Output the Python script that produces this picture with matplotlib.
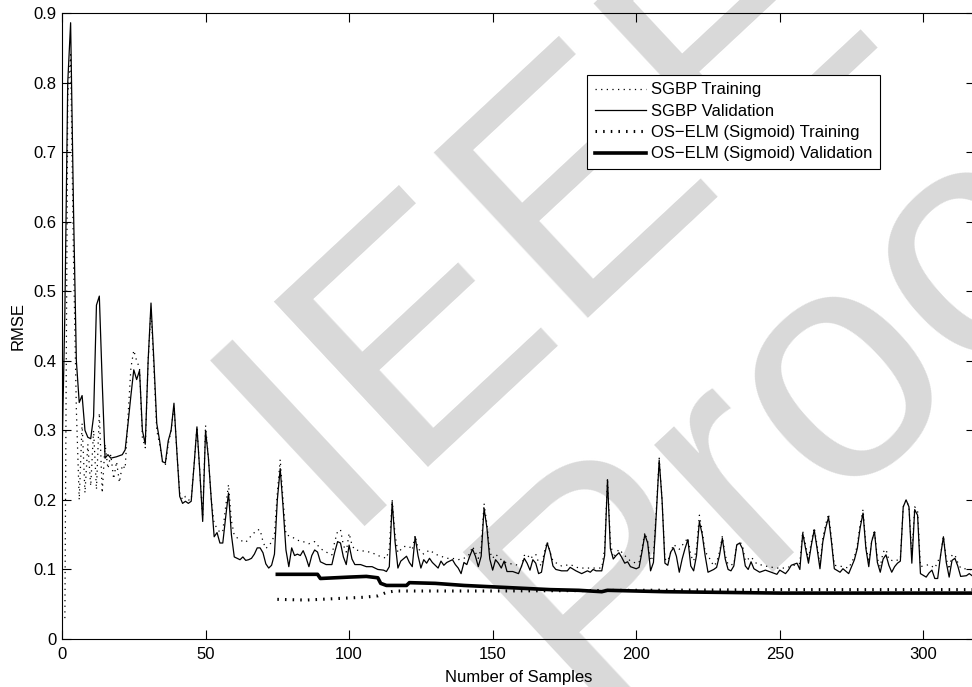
import matplotlib
matplotlib.use('Agg')
import matplotlib.pyplot as plt

plt.rcParams['font.family'] = ['Liberation Sans', 'DejaVu Sans']

# SGBP validation (thin solid)
val_x = [0, 1, 2, 3, 4, 5, 6, 7, 8, 9,
         10, 11, 12, 13, 14, 15, 16, 17, 19, 21,
         22, 23, 24, 25, 26, 27, 28, 29, 30, 31,
         32, 33, 34, 35, 36, 37, 38, 39, 40, 41,
         42, 43, 44, 45, 46, 47, 48, 49, 50, 51,
         52, 53, 54, 55, 56, 57, 58, 59, 60, 61,
         62, 63, 64, 65, 66, 67, 68, 69, 70, 71,
         72, 73, 74, 75, 76, 77, 78, 79, 80, 81,
         82, 83, 84, 85, 86, 87, 88, 89, 90, 92,
         94, 95, 96, 97, 98, 99, 100, 101, 102, 104,
         106, 108, 110, 112, 113, 114, 115, 116, 117, 118,
         120, 121, 122, 123, 124, 125, 126, 127, 128, 129,
         130, 131, 132, 133, 134, 135, 136, 137, 138, 139,
         140, 141, 142, 143, 144, 145, 146, 147, 148, 149,
         150, 151, 152, 153, 154, 155, 157, 159, 160, 161,
         162, 163, 164, 165, 166, 167, 168, 169, 170, 171,
         172, 174, 176, 177, 179, 181, 183, 184, 185, 186,
         188, 189, 190, 191, 192, 193, 194, 195, 196, 197,
         198, 200, 201, 202, 203, 204, 205, 206, 207, 208,
         209, 210, 211, 212, 213, 214, 215, 216, 217, 218,
         219, 220, 221, 222, 223, 224, 225, 227, 228, 229,
         230, 231, 232, 233, 234, 235, 236, 237, 238, 239,
         240, 241, 243, 245, 247, 249, 250, 252, 253, 254,
         256, 257, 258, 259, 260, 261, 262, 263, 264, 265,
         266, 267, 268, 269, 271, 272, 274, 276, 277, 278,
         279, 280, 281, 282, 283, 284, 285, 286, 287, 288,
         289, 290, 291, 292, 293, 294, 295, 296, 297, 298,
         299, 301, 302, 303, 304, 305, 306, 307, 308, 309,
         310, 311, 312, 313, 315, 316, 318]
val_y = [.26, .47, .80, .886, .62, .40, .34, .35, .30, .29,
         .288, .32, .48, .493, .37, .26, .265, .26, .262, .265,
         .272, .31, .35, .387, .373, .386, .30, .28, .40, .483,
         .40, .31, .285, .255, .253, .285, .30, .339, .27, .205,
         .195, .198, .195, .198, .25, .305, .24, .169, .30, .26,
         .20, .147, .153, .138, .138, .175, .21, .15, .118, .116,
         .114, .118, .113, .114, .116, .122, .131, .131, .124, .108,
         .102, .106, .122, .20, .245, .19, .128, .104, .131, .12,
         .122, .12, .127, .117, .104, .12, .128, .125, .111, .107,
         .107, .125, .14, .138, .118, .107, .135, .115, .107, .107,
         .104, .104, .10, .099, .097, .104, .197, .14, .102, .112,
         .119, .11, .104, .147, .12, .102, .114, .109, .116, .11,
         .106, .102, .112, .106, .11, .112, .114, .107, .102, .094,
         .11, .107, .119, .129, .119, .104, .119, .188, .16, .115,
         .099, .114, .109, .102, .112, .097, .097, .094, .104, .116,
         .109, .099, .114, .109, .094, .096, .12, .138, .125, .105,
         .10, .098, .098, .103, .098, .094, .098, .096, .10, .098,
         .098, .12, .229, .13, .115, .12, .124, .117, .109, .111,
         .104, .101, .103, .125, .15, .138, .098, .11, .18, .257,
         .20, .109, .106, .125, .131, .119, .096, .115, .13, .143,
         .105, .098, .12, .169, .15, .12, .096, .10, .103, .12,
         .145, .115, .10, .098, .105, .135, .138, .13, .105, .10,
         .111, .101, .096, .099, .096, .093, .099, .094, .099, .106,
         .109, .10, .152, .13, .109, .135, .157, .13, .101, .14,
         .16, .175, .14, .101, .096, .101, .094, .114, .13, .16,
         .181, .13, .104, .14, .154, .11, .096, .115, .121, .106,
         .096, .104, .109, .112, .19, .20, .19, .109, .186, .178,
         .094, .089, .095, .099, .087, .087, .12, .147, .11, .089,
         .113, .116, .105, .09, .091, .094, .088]

# SGBP training (thin dotted)
tr_x = [1, 2, 3, 4, 5, 6, 7, 8, 9, 10,
        11, 12, 13, 14, 15, 16, 17, 18, 19, 20,
        21, 22, 23, 24, 25, 26, 27, 28, 29, 30,
        31, 32, 33, 34, 35, 36, 37, 38, 39, 40,
        41, 42, 43, 44, 45, 46, 47, 48, 49, 50,
        51, 52, 53, 54, 55, 56, 57, 58, 59, 60,
        62, 64, 66, 68, 69, 70, 71, 73, 74, 75,
        76, 77, 78, 80, 82, 84, 86, 88, 90, 92,
        94, 95, 96, 97, 98, 99, 100, 101, 102, 104,
        106, 108, 110, 113, 114, 115, 116, 117, 119, 121,
        122, 123, 124, 126, 128, 130, 132, 134, 136, 138,
        140, 142, 143, 145, 146, 147, 148, 149, 150, 151,
        153, 155, 158, 160, 161, 162, 163, 164, 165, 166,
        167, 168, 169, 170, 171, 174, 177, 180, 184, 188,
        189, 190, 191, 192, 194, 196, 198, 200, 201, 202,
        203, 204, 205, 206, 207, 208, 209, 210, 211, 213,
        215, 217, 218, 219, 220, 221, 222, 223, 224, 225,
        227, 228, 229, 230, 231, 232, 234, 235, 236, 237,
        238, 240, 242, 244, 246, 249, 252, 255, 257, 258,
        259, 260, 261, 262, 263, 264, 265, 266, 267, 268,
        269, 272, 274, 276, 277, 278, 279, 280, 281, 282,
        283, 284, 285, 286, 287, 288, 290, 292, 293, 294,
        295, 296, 297, 298, 299, 302, 304, 306, 307, 308,
        309, 310, 311, 312, 313, 316, 318]
tr_y = [.03, .78, .84, .55, .33, .20, .31, .21, .28, .22,
        .30, .215, .325, .21, .28, .245, .265, .23, .255, .225,
        .25, .245, .32, .39, .415, .40, .39, .29, .275, .40,
        .475, .39, .30, .28, .255, .25, .28, .30, .335, .27,
        .21, .20, .205, .20, .20, .25, .305, .24, .175, .307,
        .26, .20, .165, .16, .153, .155, .19, .222, .17, .149,
        .142, .139, .149, .157, .157, .14, .13, .139, .15, .21,
        .258, .20, .15, .147, .142, .14, .137, .14, .13, .125,
        .121, .14, .155, .157, .135, .125, .152, .135, .128, .127,
        .126, .124, .12, .116, .13, .20, .15, .124, .133, .133,
        .128, .149, .13, .122, .128, .122, .119, .116, .116, .114,
        .116, .122, .133, .116, .13, .195, .165, .125, .116, .122,
        .114, .109, .107, .104, .12, .122, .115, .119, .122, .11,
        .105, .125, .14, .125, .112, .105, .107, .102, .102, .102,
        .13, .231, .14, .117, .129, .12, .112, .109, .11, .13,
        .153, .14, .112, .12, .185, .26, .20, .115, .112, .136,
        .129, .14, .145, .12, .112, .13, .178, .155, .125, .12,
        .105, .11, .125, .148, .12, .107, .107, .135, .14, .135,
        .112, .118, .108, .106, .104, .102, .102, .106, .109, .155,
        .135, .115, .14, .16, .135, .106, .145, .165, .18, .145,
        .106, .104, .102, .118, .135, .165, .186, .135, .11, .14,
        .157, .115, .104, .125, .129, .114, .112, .115, .19, .20,
        .19, .12, .19, .185, .104, .107, .102, .12, .148, .115,
        .10, .121, .121, .11, .102, .10, .099]

# OS-ELM (Sigmoid) validation (thick solid)
elm_val_x = [75, 89, 90, 100, 106, 110, 111, 113, 120, 121, 130, 140,
             150, 160, 170, 180, 188, 190, 200, 210, 230, 250, 280, 318]
elm_val_y = [.093, .093, .087, .089, .09, .088, .08, .077, .077, .081, .08, .077,
             .075, .073, .071, .07, .068, .07, .069, .068, .067, .066, .066, .066]

# OS-ELM (Sigmoid) training (thick dotted)
elm_tr_x = [75, 85, 95, 105, 110, 113, 116, 150, 200, 250, 318]
elm_tr_y = [.057, .056, .058, .06, .062, .067, .069, .069, .07, .071, .071]

x_ticks = [0, 50, 100, 150, 200, 250, 300]
y_ticks = [0, 0.1, 0.2, 0.3, 0.4, 0.5, 0.6, 0.7, 0.8, 0.9]
y_tick_labels = ['0', '0.1', '0.2', '0.3', '0.4', '0.5', '0.6', '0.7', '0.8', '0.9']

fig = plt.figure(figsize=(9.72, 6.87), dpi=100)
ax = fig.add_axes([62 / 972, 48 / 687, 913 / 972, 626 / 687])

# watermark behind the curves
wm_color = '#d9d9d9'
ax.text(0.3447, 0.2344, 'IEEE', transform=fig.transFigure, fontsize=236,
        color=wm_color, rotation=43, rotation_mode='anchor',
        ha='left', va='baseline', zorder=0.5, clip_on=False)
ax.text(0.607, -0.045, 'Proof', transform=fig.transFigure, fontsize=236,
        color=wm_color, rotation=43, rotation_mode='anchor',
        ha='left', va='baseline', zorder=0.5, clip_on=False)

ax.plot(tr_x, tr_y, color='k', lw=0.9, linestyle=(0, (1, 3.5)),
        label='SGBP Training')
ax.plot(val_x, val_y, color='k', lw=0.9, label='SGBP Validation')
ax.plot(elm_tr_x, elm_tr_y, color='k', lw=2.2, linestyle=(0, (0.5, 2.0)),
        label='OS\u2212ELM (Sigmoid) Training')
ax.plot(elm_val_x, elm_val_y, color='k', lw=2.6,
        label='OS\u2212ELM (Sigmoid) Validation')

ax.set_xlim(0, 318)
ax.set_ylim(0, 0.9)
ax.set_xticks(x_ticks)
ax.set_yticks(y_ticks)
ax.set_yticklabels(y_tick_labels)
ax.tick_params(direction='in', length=6.5, width=0.8, top=True, right=True,
               labelsize=12, colors='k')
ax.tick_params(axis='x', pad=6)
ax.tick_params(axis='y', pad=4)
for sp in ax.spines.values():
    sp.set_linewidth(0.8)

ax.set_xlabel('Number of Samples', fontsize=12)
ax.set_ylabel('RMSE', fontsize=12)
ax.xaxis.set_label_coords(0.5, -0.05)
ax.yaxis.set_label_coords(-0.040, 0.5)

leg = ax.legend(loc='upper right', bbox_to_anchor=(0.896, 0.901),
                fontsize=12, frameon=True, fancybox=False, framealpha=1,
                edgecolor='k', borderpad=0.45, handlelength=3.1,
                handletextpad=0.3, labelspacing=0.38, borderaxespad=0)
leg.get_frame().set_linewidth(0.8)

fig.savefig('out.png', dpi=100)
